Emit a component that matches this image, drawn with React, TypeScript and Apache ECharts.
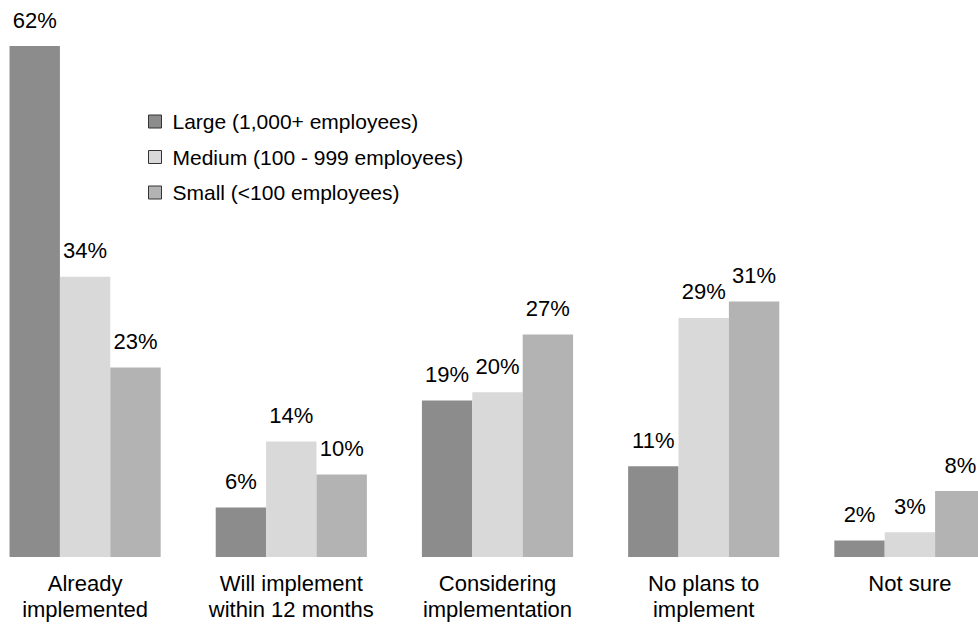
import React, { useEffect, useRef } from "react";
import * as echarts from "echarts";

const categories = [
  "Already\nimplemented",
  "Will implement\nwithin 12 months",
  "Considering\nimplementation",
  "No plans to\nimplement",
  "Not sure",
];
const seriesNames = [
  "Large (1,000+ employees)",
  "Medium (100 - 999 employees)",
  "Small (<100 employees)",
];
const largeValues = [62, 6, 19, 11, 2];
const mediumValues = [34, 14, 20, 29, 3];
const smallValues = [23, 10, 27, 31, 8];
const colors = ["#8c8c8c", "#d9d9d9", "#b3b3b3"];

const OFFSET = 18;

export default function App() {
  const ref = useRef<HTMLDivElement>(null);
  useEffect(() => {
    if (!ref.current) return;
    const chart = echarts.init(ref.current, null, { renderer: "svg" });
    const font = "Liberation Sans, Arial, sans-serif";
    const data = [largeValues, mediumValues, smallValues];
    chart.setOption({
      animation: false,
      backgroundColor: "#ffffff",
      grid: { left: 0, top: 46, right: 0, bottom: 69, containLabel: false },
      legend: {
        orient: "vertical",
        left: 148 + OFFSET,
        top: 111,
        padding: 0,
        itemGap: 14.5,
        itemWidth: 13,
        itemHeight: 13,
        icon: "rect",
        data: seriesNames.map((n, i) => ({
          name: n,
          itemStyle: { color: colors[i], borderColor: "#333", borderWidth: 1 },
        })),
        textStyle: { fontFamily: font, fontSize: 21, color: "#000", padding: [0, 0, 0, 6] },
      },
      xAxis: {
        type: "category",
        data: categories,
        axisLine: { show: false },
        axisTick: { show: false },
        axisLabel: {
          interval: 0,
          margin: 13,
          fontFamily: font,
          fontSize: 22,
          color: "#000",
          lineHeight: 26,
        },
      },
      yAxis: {
        type: "value",
        min: 0,
        max: 62,
        show: false,
        splitLine: { show: false },
      },
      series: data.map((vals, i) => ({
        type: "bar",
        name: seriesNames[i],
        data: vals,
        barGap: "0%",
        barCategoryGap: "26.7%",
        itemStyle: { color: colors[i] },
        label: {
          show: true,
          position: "top",
          distance: 15,
          formatter: "{c}%",
          fontFamily: font,
          fontSize: 22,
          color: "#000",
        },
      })),
    });
    return () => chart.dispose();
  }, []);
  return (
    <div style={{ width: 978, height: 626, position: "absolute", left: 0, top: 0, overflow: "hidden", background: "#fff" }}>
      <div ref={ref} style={{ width: 1031, height: 626, position: "absolute", left: -OFFSET, top: 0 }} />
    </div>
  );
}
